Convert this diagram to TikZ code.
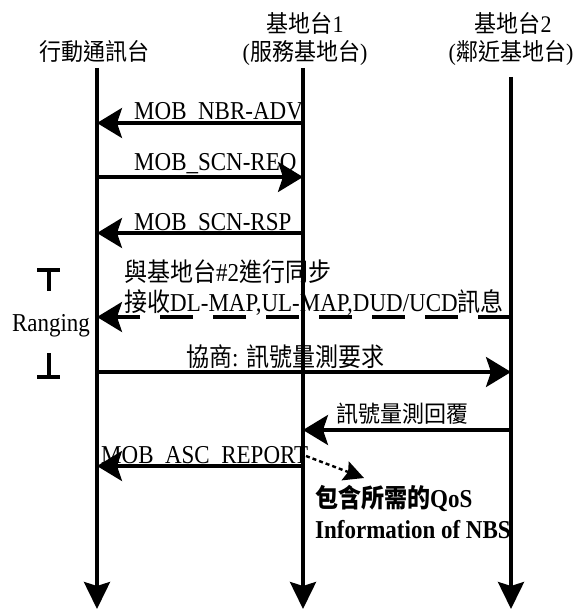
\documentclass[tikz,border=0pt]{standalone}
\usepackage{fontspec}
\setmainfont{Liberation Serif}
\newfontfamily\cjk{Noto Sans CJK TC}
\usetikzlibrary{arrows.meta}
\begin{document}
\begin{tikzpicture}[x=1pt,y=-1pt,
  lifeline/.style={line width=3.6pt,-{Stealth[length=27pt,width=26pt,inset=4pt]}},
  msg/.style={line width=3.4pt,-{Stealth[length=25pt,width=30pt,inset=5pt]}},
  dmsg/.style={msg,dash pattern=on 33pt off 20pt},
  note/.style={line width=2.4pt,dash pattern=on 4pt off 3pt,-{Stealth[length=20pt,width=20pt,inset=3pt]}},
  lbl/.style={font=\fontsize{23}{26}\selectfont, inner sep=0pt, anchor=base west, yscale=1.12},
  clbl/.style={font=\fontsize{22}{26}\selectfont\cjk, inner sep=0pt, anchor=base west, yscale=1.05},
  head/.style={font=\fontsize{22}{26}\selectfont, inner sep=0pt, anchor=base, yscale=1.08},
  bar/.style={line width=4pt}
]
\useasboundingbox (0,0) rectangle (587,609);
% headers
\node[head] (hms) at (94,61) {\cjk 行動通訊台};
\node[head] (hbs1a) at (305,33) {{\cjk 基地台}1};
\node[head] (hbs1b) at (305,61) {({\cjk 服務基地台})};
\node[head] (hbs2a) at (513,33) {{\cjk 基地台}2};
\node[head] (hbs2b) at (511,61) {({\cjk 鄰近基地台})};
% lifelines
\coordinate (ms0) at (97,68);
\coordinate (ms9) at (97,609);
\coordinate (bs10) at (303,68);
\coordinate (bs19) at (303,609);
\coordinate (bs20) at (511,77);
\coordinate (bs29) at (511,609);
\draw[lifeline] (ms0) -- (ms9);
\draw[lifeline] (bs10) -- (bs19);
\draw[lifeline] (bs20) -- (bs29);
% message endpoints
\coordinate (m1a) at (303,123); \coordinate (m1b) at (97,123);
\coordinate (m2a) at (97,177);  \coordinate (m2b) at (303,177);
\coordinate (m3a) at (303,233); \coordinate (m3b) at (97,233);
\coordinate (m4a) at (511,317); \coordinate (m4b) at (97,317);
\coordinate (m5a) at (97,372);  \coordinate (m5b) at (511,372);
\coordinate (m6a) at (511,430); \coordinate (m6b) at (303,430);
\coordinate (m7a) at (303,466); \coordinate (m7b) at (97,466);
\coordinate (n1a) at (306,456); \coordinate (n1b) at (364,478);
\draw[msg] (m1a) -- (m1b);
\draw[msg] (m2a) -- (m2b);
\draw[msg] (m3a) -- (m3b);
\draw[dmsg] (m4a) -- (m4b);
\draw[msg] (m5a) -- (m5b);
\draw[msg] (m6a) -- (m6b);
\draw[msg] (m7a) -- (m7b);
\draw[note] (n1a) -- (n1b);
% labels
\node[lbl] (l1) at (134,120) {MOB\_NBR-ADV};
\node[lbl] (l2) at (134,170.5) {MOB\_SCN-REQ};
\node[lbl] (l3) at (134,230.5) {MOB\_SCN-RSP};
\node[lbl] (l4) at (124,281) {{\cjk 與基地台}\#2{\cjk 進行同步}};
\node[lbl] (l5) at (124,311) {{\cjk 接收}DL-MAP,UL-MAP,DUD/UCD{\cjk 訊息}};
\node[lbl] (l6) at (186,366) {{\cjk 協商}: {\cjk 訊號量測要求}};
\node[clbl] (l7) at (336,422) {訊號量測回覆};
\node[lbl] (l8) at (101,463) {MOB\_ASC\_REPORT};
\node[lbl,font=\fontsize{23}{26}\selectfont\bfseries] (l9) at (315,507) {{\cjk 包含所需的}QoS};
\node[lbl,font=\fontsize{23}{26}\selectfont\bfseries] (l10) at (315,538) {Information of NBS};
% ranging bracket
\node[lbl,anchor=base] (rg) at (51,331) {Ranging};
\coordinate (t1) at (37,270); \coordinate (t2) at (60,270);
\coordinate (t3) at (48.5,270); \coordinate (t4) at (48.5,291);
\coordinate (b1) at (37,377); \coordinate (b2) at (60,377);
\coordinate (b3) at (48.5,377); \coordinate (b4) at (48.5,353);
\draw[bar] (t1) -- (t2); \draw[bar] (t3) -- (t4);
\draw[bar] (b1) -- (b2); \draw[bar] (b3) -- (b4);
\end{tikzpicture}
\end{document}
